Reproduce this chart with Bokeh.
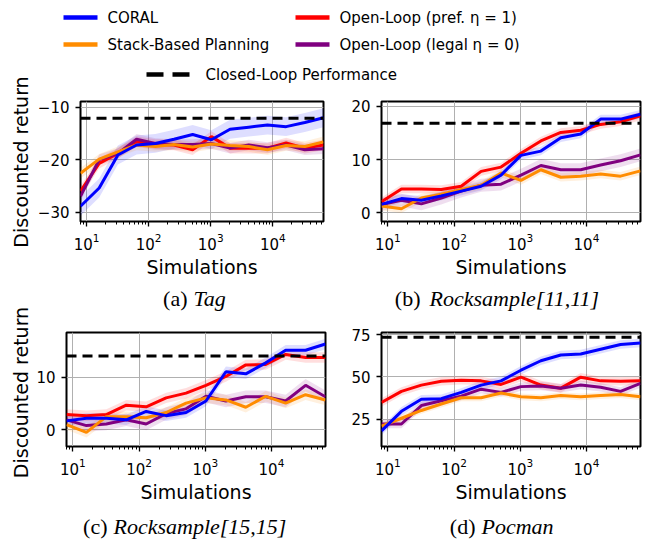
import math
from bokeh.plotting import figure
from bokeh.layouts import column, row
from bokeh.models import Range1d, FixedTicker, Span
from bokeh.embed import file_html
from bokeh.resources import INLINE
from bokeh.core.properties import value

# ---------------- data ----------------
sims = [8, 16, 32, 64, 128, 256, 512, 1024, 2048, 4096, 8192, 16384, 32768, 65536]

# (a) Tag
tag_coral = [-28.9, -25.4, -19.1, -17.2, -16.9, -16.1, -15.2, -16.2, -14.2, -13.8, -13.4, -13.7, -12.9, -12.0]
tag_stack = [-22.6, -19.9, -18.5, -17.2, -17.5, -17.1, -17.6, -17.0, -17.3, -17.5, -18.1, -17.3, -17.5, -16.6]
tag_pref = [-26.0, -20.7, -18.8, -16.6, -17.1, -17.2, -18.1, -15.6, -17.8, -17.8, -17.8, -16.8, -17.8, -17.2]
tag_legal = [-27.0, -20.0, -18.8, -16.1, -16.9, -17.1, -17.1, -16.9, -17.8, -17.2, -17.7, -17.2, -18.1, -17.9]
tag_closed = -12.1

# (b) Rocksample[11,11]
rs11_coral = [1.6, 2.7, 2.4, 3.2, 4.1, 5.0, 7.1, 10.8, 11.6, 14.1, 14.8, 17.6, 17.6, 18.5]
rs11_stack = [1.3, 0.8, 2.8, 3.5, 4.4, 5.2, 7.5, 6.1, 8.1, 6.7, 6.9, 7.3, 6.9, 7.9]
rs11_pref = [2.1, 4.5, 4.5, 4.4, 5.0, 7.8, 8.6, 11.2, 13.5, 15.1, 15.5, 16.6, 17.1, 18.2]
rs11_legal = [1.6, 2.4, 1.7, 2.8, 4.1, 5.2, 5.4, 7.1, 8.9, 8.1, 8.1, 9.0, 9.8, 10.9]
rs11_closed = 16.8

# (c) Rocksample[15,15]
rs15_coral = [1.7, 2.2, 2.2, 1.9, 3.5, 2.7, 3.3, 5.5, 11.1, 10.7, 12.8, 15.2, 15.2, 16.4]
rs15_stack = [1.0, -0.5, 2.5, 2.5, 2.3, 3.3, 5.1, 6.1, 5.7, 4.3, 6.4, 5.1, 6.7, 5.7]
rs15_pref = [2.9, 2.7, 2.9, 4.7, 4.4, 6.1, 7.0, 8.5, 10.2, 12.4, 12.5, 14.4, 13.8, 13.8]
rs15_legal = [1.9, 0.8, 1.1, 1.9, 1.1, 3.1, 4.0, 6.4, 5.5, 6.3, 6.3, 5.5, 8.5, 6.3]
rs15_closed = 14.1

# (d) Pocman
poc_coral = [18.1, 29.7, 36.8, 37.2, 40.9, 45.2, 47.7, 54.0, 59.6, 63.0, 63.6, 66.4, 69.2, 70.1]
poc_stack = [20.9, 25.6, 30.2, 34.0, 37.7, 37.7, 40.5, 38.3, 37.7, 39.0, 38.3, 39.0, 39.6, 38.3]
poc_pref = [34.9, 41.5, 45.2, 47.5, 48.0, 47.7, 45.6, 49.9, 45.2, 43.4, 49.9, 47.7, 47.5, 47.7]
poc_legal = [22.2, 22.2, 33.1, 35.9, 38.7, 42.8, 40.9, 44.3, 44.7, 43.4, 45.2, 43.9, 41.5, 46.2]
poc_closed = 73.5

# estimated half-widths of the shaded bands (coral, stack, pref, legal)
tag_band = [1.8, 1.0, 1.0, 1.0]
rs11_band = [0.8, 0.8, 0.8, 1.2]
rs15_band = [1.0, 1.0, 1.0, 1.2]
poc_band = [2.5, 2.0, 2.5, 2.5]

series_names = ["CORAL", "Stack-Based Planning", "Open-Loop (pref. η = 1)", "Open-Loop (legal η = 0)"]
closed_name = "Closed-Loop Performance"
y_label = "Discounted return"
x_label = "Simulations"
colors = ["#0000ff", "#ff8c00", "#ff0000", "#800080"]

captions = [("(a)", "Tag"), ("(b)", "Rocksample[11,11]"), ("(c)", "Rocksample[15,15]"), ("(d)", "Pocman")]

SANS = "DejaVu Sans"
SERIF = "Liberation Serif"
STRIP = 30  # width of the left strip holding the y-axis titles


def panel(ser, bands, closed, ylo, yhi, yticks, left, right, top, fw, fh, bottom):
    p = figure(width=left + fw + right, height=top + fh + bottom,
               x_axis_type="log", x_range=Range1d(8, 65536), y_range=Range1d(ylo, yhi),
               output_backend="svg", toolbar_location=None,
               min_border_left=left, min_border_right=right,
               min_border_top=top, min_border_bottom=bottom)
    p.background_fill_color = "white"
    p.border_fill_color = "white"
    p.outline_line_color = "black"
    p.outline_line_width = 2
    p.outline_line_alpha = 1
    p.grid.grid_line_color = "#b0b0b0"
    p.grid.grid_line_width = 1
    p.yaxis.ticker = FixedTicker(ticks=yticks)
    p.axis.axis_line_color = None
    p.axis.major_tick_line_color = "black"
    p.axis.major_tick_line_width = 1.3
    p.axis.major_tick_out = 5
    p.axis.major_tick_in = 0
    p.xaxis.minor_tick_line_color = "black"
    p.xaxis.minor_tick_line_width = 1
    p.xaxis.minor_tick_out = 3
    p.xaxis.minor_tick_in = 0
    p.yaxis.minor_tick_line_color = None
    p.axis.major_label_text_font = SANS
    p.axis.major_label_text_font_size = "15px"
    p.axis.major_label_text_color = "black"
    p.xaxis.major_label_standoff = 6
    p.yaxis.major_label_standoff = 6
    p.xaxis.axis_label = x_label
    p.xaxis.axis_label_text_font = SANS
    p.xaxis.axis_label_text_font_size = "19px"
    p.xaxis.axis_label_text_font_style = "normal"
    p.xaxis.axis_label_text_color = "black"
    p.xaxis.axis_label_standoff = 3

    for vals, hw, c in zip(ser, bands, colors):
        p.varea(x=sims, y1=[v - hw for v in vals], y2=[v + hw for v in vals],
                fill_color=c, fill_alpha=0.13)
    for idx in [2, 3, 1, 0]:
        p.line(x=sims, y=ser[idx], line_color=colors[idx], line_width=3)
    p.add_layout(Span(location=closed, dimension="width", line_color="black",
                      line_width=3, line_dash="10 6"))
    return p


pa = panel([tag_coral, tag_stack, tag_pref, tag_legal], tag_band, tag_closed,
           -31.8, -8.9, [-30, -20, -10], 80 - STRIP, 7, 9, 243, 121, 58)
pb = panel([rs11_coral, rs11_stack, rs11_pref, rs11_legal], rs11_band, rs11_closed,
           -1.6, 20.9, [0, 10, 20], 51, 17, 9, 259, 121, 58)
pc = panel([rs15_coral, rs15_stack, rs15_pref, rs15_legal], rs15_band, rs15_closed,
           -3.2, 18.6, [0, 10], 66 - STRIP, 5, 14, 259, 120, 53)
pd = panel([poc_coral, poc_stack, poc_pref, poc_legal], poc_band, poc_closed,
           8.9, 76.3, [25, 50, 75], 51, 17, 14, 259, 120, 53)


def blank(x0, y0, w, h):
    f = figure(width=w, height=h, x_range=Range1d(x0, x0 + w), y_range=Range1d(y0 + h, y0),
               output_backend="svg", toolbar_location=None,
               x_axis_location=None, y_axis_location=None,
               min_border=0, min_border_left=0, min_border_right=0,
               min_border_top=0, min_border_bottom=0)
    f.outline_line_color = None
    f.grid.visible = False
    f.background_fill_color = "white"
    f.border_fill_color = "white"
    return f


# left strip with the y-axis titles (page coordinates)
strip = blank(0, 0, STRIP, 540)
strip.text(x=[20, 20], y=[161.5, 392], text=[y_label, y_label], angle=math.pi / 2,
           text_font=value(SANS), text_font_size="19px", text_align="center",
           text_baseline="middle", text_color="black")

# legend (page coordinates)
leg = blank(STRIP, 0, 657 - STRIP, 92)
leg_x0 = [63, 63, 295, 295]
leg_y = [17, 44, 17, 44]
for i in range(4):
    leg.segment(x0=[leg_x0[i]], y0=[leg_y[i]], x1=[leg_x0[i] + 34], y1=[leg_y[i]],
                line_color=colors[i], line_width=4.5)
    leg.text(x=[leg_x0[i] + 44], y=[leg_y[i]], text=[series_names[i]],
             text_font=value(SANS), text_font_size="15px", text_baseline="middle",
             text_color="black")
leg.segment(x0=[146, 172], y0=[74, 74], x1=[163, 189], y1=[74, 74],
            line_color="black", line_width=4.5)
leg.text(x=[205], y=[74], text=[closed_name], text_font=value(SANS),
         text_font_size="15px", text_baseline="middle", text_color="black")

# captions (page coordinates)
cap1 = blank(STRIP, 280, 657 - STRIP, 38)
cap2 = blank(STRIP, 505, 657 - STRIP, 35)
cap_specs = [(cap1, 187, 193, 298, 0), (cap1, 420, 429, 298, 1),
             (cap2, 107, 113, 526, 2), (cap2, 475, 481, 526, 3)]
for f, xr, xl, y, k in cap_specs:
    f.text(x=[xr], y=[y], text=[captions[k][0]], text_font=value(SERIF), text_font_size="22px",
           text_align="right", text_baseline="middle", text_color="black")
    f.text(x=[xl], y=[y], text=[captions[k][1]], text_font=value(SERIF), text_font_size="22px",
           text_font_style="italic", text_align="left", text_baseline="middle", text_color="black")

layout = row(strip, column(leg, row(pa, pb), cap1, row(pc, pd), cap2))

open("out.html", "w").write(file_html(layout, INLINE))
